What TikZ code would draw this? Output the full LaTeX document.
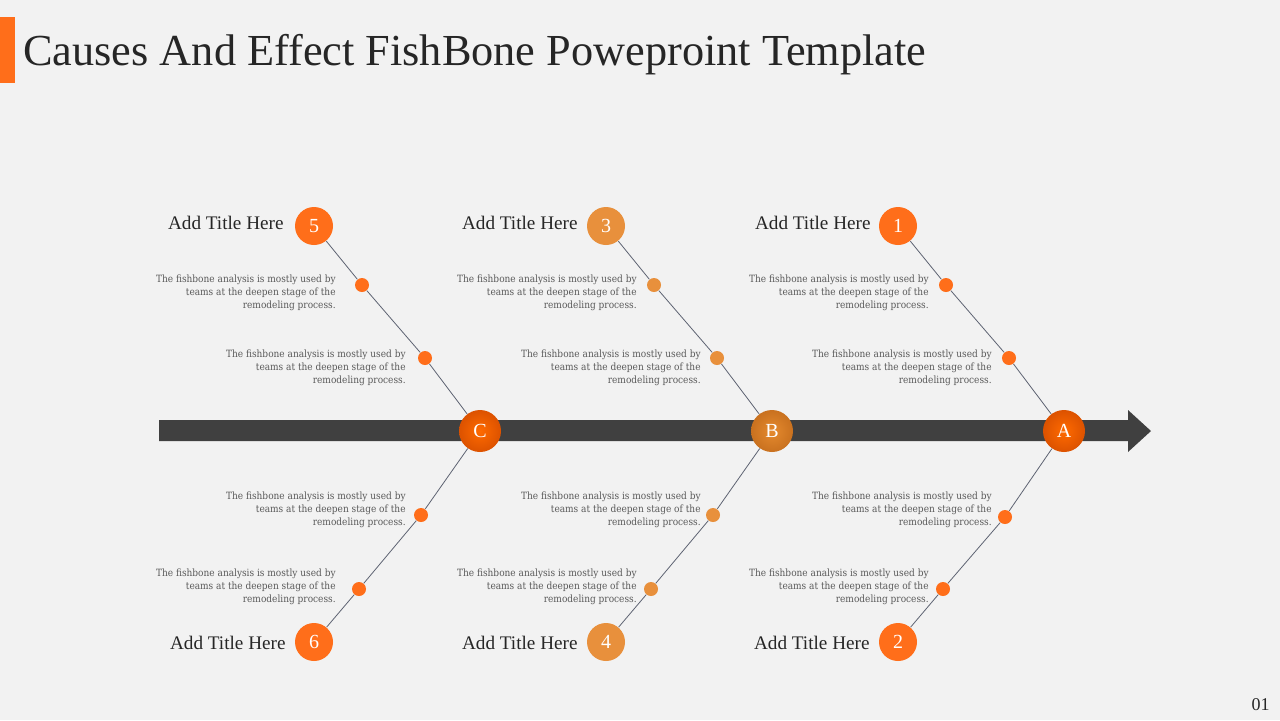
\documentclass[tikz,border=0pt]{standalone}
\usepackage{fontspec}
\setmainfont{Liberation Serif}
\newfontfamily\smallfont{DejaVu Serif Condensed}
\definecolor{bg}{HTML}{F2F2F2}
\definecolor{orA}{HTML}{FF6E1A}
\definecolor{orB}{HTML}{E8903C}
\definecolor{shaft}{HTML}{404040}
\definecolor{bone}{HTML}{5E6372}
\definecolor{titlec}{HTML}{262626}
\definecolor{txt}{HTML}{595959}
\definecolor{hotin}{HTML}{FF6A00}
\definecolor{hotout}{HTML}{DC5200}
\definecolor{warmin}{HTML}{E58A2E}
\definecolor{warmout}{HTML}{C9711F}
\tikzset{
  numc/.style={circle, fill=#1, minimum size=19pt, inner sep=0pt, text=white, font=\fontsize{10}{12}\selectfont},
  dotc/.style={circle, fill=#1, minimum size=7pt, inner sep=0pt},
  bigc/.style={circle, minimum size=21pt, inner sep=0pt, text=white, font=\fontsize{10}{12}\selectfont},
  hotc/.style={bigc, shade, inner color=hotin, outer color=hotout},
  warmc/.style={bigc, shade, inner color=warmin, outer color=warmout},
  ttl/.style={anchor=east, inner sep=0pt, text=titlec, font=\fontsize{9.6}{11}\selectfont},
  desc/.style={anchor=east, align=right, text=txt, inner sep=0pt, font=\smallfont\fontsize{5.0}{6.5}\selectfont},
  bonel/.style={draw=bone, line width=0.4pt}
}
\begin{document}
\begin{tikzpicture}[x=0.5pt, y=-0.5pt]
\useasboundingbox (0,0) rectangle (1280,720);
\fill[bg] (0,0) rectangle (1280,720);
\fill[orA] (0,17) rectangle (15,83);
\node[anchor=base west, inner sep=0pt, text=titlec, font=\fontsize{22.15}{26}\selectfont] (title) at (23,65) {Causes And Effect FishBone Poweproint Template};
% arrow
\fill[shaft] (159,420) -- (1128,420) -- (1128,410) -- (1151,431) -- (1128,452) -- (1128,441) -- (159,441) -- cycle;
% big circles
\node[hotc] (C) at (480,431) {C};
\node[warmc] (B) at (772,431) {B};
\node[hotc] (A) at (1064,431) {A};
% numbered circles
\node[numc=orA] (n5) at (314,226) {5};
\node[numc=orB] (n3) at (606,226) {3};
\node[numc=orA] (n1) at (898,226) {1};
\node[numc=orA] (n6) at (314,642) {6};
\node[numc=orB] (n4) at (606,642) {4};
\node[numc=orA] (n2) at (898,642) {2};
% dots
\node[dotc=orA] (d5a) at (362,285) {};
\node[dotc=orA] (d5b) at (425,358) {};
\node[dotc=orB] (d3a) at (654,285) {};
\node[dotc=orB] (d3b) at (717,358) {};
\node[dotc=orA] (d1a) at (946,285) {};
\node[dotc=orA] (d1b) at (1009,358) {};
\node[dotc=orA] (d6a) at (421,515) {};
\node[dotc=orA] (d6b) at (359,589) {};
\node[dotc=orB] (d4a) at (713,515) {};
\node[dotc=orB] (d4b) at (651,589) {};
\node[dotc=orA] (d2a) at (1005,517) {};
\node[dotc=orA] (d2b) at (943,589) {};
% bones
\draw[bonel] (n5) -- (d5a); \draw[bonel] (d5a) -- (d5b); \draw[bonel] (d5b) -- (C);
\draw[bonel] (n3) -- (d3a); \draw[bonel] (d3a) -- (d3b); \draw[bonel] (d3b) -- (B);
\draw[bonel] (n1) -- (d1a); \draw[bonel] (d1a) -- (d1b); \draw[bonel] (d1b) -- (A);
\draw[bonel] (C) -- (d6a); \draw[bonel] (d6a) -- (d6b); \draw[bonel] (d6b) -- (n6);
\draw[bonel] (B) -- (d4a); \draw[bonel] (d4a) -- (d4b); \draw[bonel] (d4b) -- (n4);
\draw[bonel] (A) -- (d2a); \draw[bonel] (d2a) -- (d2b); \draw[bonel] (d2b) -- (n2);
% titles
\node[ttl] (t5) at (284,223) {Add Title Here};
\node[ttl] (t3) at (578,223) {Add Title Here};
\node[ttl] (t1) at (871,223) {Add Title Here};
\node[ttl] (t6) at (286,643) {Add Title Here};
\node[ttl] (t4) at (578,643) {Add Title Here};
\node[ttl] (t2) at (870,643) {Add Title Here};
% descriptions
\newcommand{\fbtext}{The fishbone analysis is mostly used by\\teams at the deepen stage of the\\remodeling process.}
\node[desc] (x5a) at (336,293) {\fbtext};
\node[desc] (x5b) at (406,368) {\fbtext};
\node[desc] (x3a) at (637,293) {\fbtext};
\node[desc] (x3b) at (701,368) {\fbtext};
\node[desc] (x1a) at (929,293) {\fbtext};
\node[desc] (x1b) at (992,368) {\fbtext};
\node[desc] (x6a) at (406,510) {\fbtext};
\node[desc] (x6b) at (336,587) {\fbtext};
\node[desc] (x4a) at (701,510) {\fbtext};
\node[desc] (x4b) at (637,587) {\fbtext};
\node[desc] (x2a) at (992,510) {\fbtext};
\node[desc] (x2b) at (929,587) {\fbtext};
\node[anchor=base east, inner sep=0pt, text=titlec, font=\fontsize{9}{10}\selectfont] (pg) at (1270,710) {01};
\end{tikzpicture}
\end{document}
